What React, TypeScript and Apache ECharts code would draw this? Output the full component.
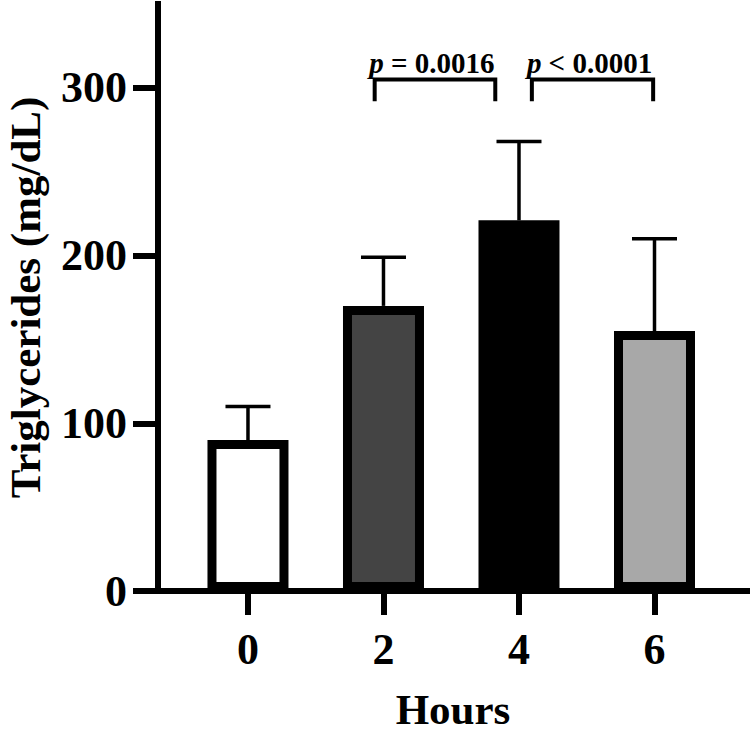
import React, { useEffect, useRef } from "react";
import * as echarts from "echarts";

const hours = [0, 2, 4, 6];
const meanTG = [90, 170, 221, 155];
const upperSD = [110, 199, 268, 210];
const barColors = ["#ffffff", "#444444", "#000000", "#a8a8a8"];
const yTicks = [0, 100, 200, 300];
const bracketFrom = [1.87, 4.19];
const bracketTo = [3.65, 5.98];
const bracketTop = [305, 305];
const bracketLeg = [292, 292];
const bracketP = ["= 0.0016", "< 0.0001"];

const FONT = "'Liberation Serif', 'Times New Roman', serif";

export default function App() {
  const ref = useRef<HTMLDivElement>(null);
  useEffect(() => {
    if (!ref.current) return;
    const chart = echarts.init(ref.current, null, { renderer: "svg" });
    const axisText = { fontFamily: FONT, fontWeight: "bold" as const, fontSize: 44, color: "#000" };
    const titleText = { fontFamily: FONT, fontWeight: "bold" as const, fontSize: 43, lineHeight: 43, color: "#000" };
    chart.setOption({
      animation: false,
      backgroundColor: "#ffffff",
      grid: { left: 158, right: 2, top: 4, bottom: 144, containLabel: false, outerBoundsMode: "none" },
      xAxis: {
        type: "value",
        min: -1.328,
        max: 7.38,
        splitLine: { show: false },
        axisLine: { onZero: false, lineStyle: { color: "#000", width: 6, cap: "square" } },
        axisTick: { customValues: hours, length: 24, lineStyle: { color: "#000", width: 6 } },
        axisLabel: { customValues: hours, margin: 36, ...axisText },
        name: "Hours",
        nameLocation: "middle",
        nameGap: 97,
        nameTextStyle: titleText,
      },
      yAxis: {
        type: "value",
        min: 0,
        max: 350,
        splitLine: { show: false },
        axisLine: { onZero: false, lineStyle: { color: "#000", width: 6, cap: "square" } },
        axisTick: { customValues: yTicks, length: 25, lineStyle: { color: "#000", width: 6 } },
        axisLabel: { customValues: yTicks, margin: 31, ...axisText },
        name: "Triglycerides (mg/dL)",
        nameLocation: "middle",
        nameGap: 111,
        nameTextStyle: titleText,
      },
      series: [
        {
          type: "bar",
          barWidth: 81,
          z: 2,
          itemStyle: { borderColor: "#000", borderWidth: 9 },
          data: hours.map((h, i) => ({ value: [h, meanTG[i]], itemStyle: { color: barColors[i] } })),
        },
        {
          type: "custom",
          z: 3,
          encode: { x: 0, y: [1, 2] },
          data: hours.map((h, i) => [h, meanTG[i], upperSD[i]]),
          renderItem: (params: any, api: any) => {
            const base = api.coord([api.value(0), api.value(1)]);
            const top = api.coord([api.value(0), api.value(2)]);
            const style = { stroke: "#000", lineWidth: 3.5 };
            return {
              type: "group",
              children: [
                { type: "line", shape: { x1: base[0], y1: base[1], x2: top[0], y2: top[1] }, style },
                { type: "line", shape: { x1: top[0] - 22.5, y1: top[1], x2: top[0] + 22.5, y2: top[1] }, style },
              ],
            };
          },
        },
        {
          type: "custom",
          z: 3,
          encode: { x: [0, 1], y: [2, 3] },
          data: bracketFrom.map((f, i) => [f, bracketTo[i], bracketTop[i], bracketLeg[i]]),
          renderItem: (params: any, api: any) => {
            const a = api.coord([api.value(0), api.value(2)]);
            const b = api.coord([api.value(1), api.value(2)]);
            const legA = api.coord([api.value(0), api.value(3)]);
            const legB = api.coord([api.value(1), api.value(3)]);
            const style = { stroke: "#000", lineWidth: 4, fill: "none" };
            return {
              type: "group",
              children: [
                {
                  type: "polyline",
                  shape: { points: [legA, a, b, legB] },
                  style,
                },
                {
                  type: "text",
                  x: (a[0] + b[0]) / 2 - 3,
                  y: a[1] - 2,
                  style: {
                    text: "{i|p} {b|" + bracketP[params.dataIndex] + "}",
                    align: "center",
                    verticalAlign: "bottom",
                    fill: "#000",
                    fontFamily: FONT,
                    fontSize: 29,
                    fontWeight: "bold",
                    rich: {
                      i: { fontFamily: FONT, fontSize: 29, fontWeight: "bold", fontStyle: "italic", fill: "#000" },
                      b: { fontFamily: FONT, fontSize: 29, fontWeight: "bold", fill: "#000" },
                    },
                  },
                },
              ],
            };
          },
        },
      ],
    });
    return () => chart.dispose();
  }, []);
  return (
    <div
      ref={ref}
      style={{ position: "absolute", left: 0, top: 0, width: 750, height: 735, background: "#fff" }}
    />
  );
}
